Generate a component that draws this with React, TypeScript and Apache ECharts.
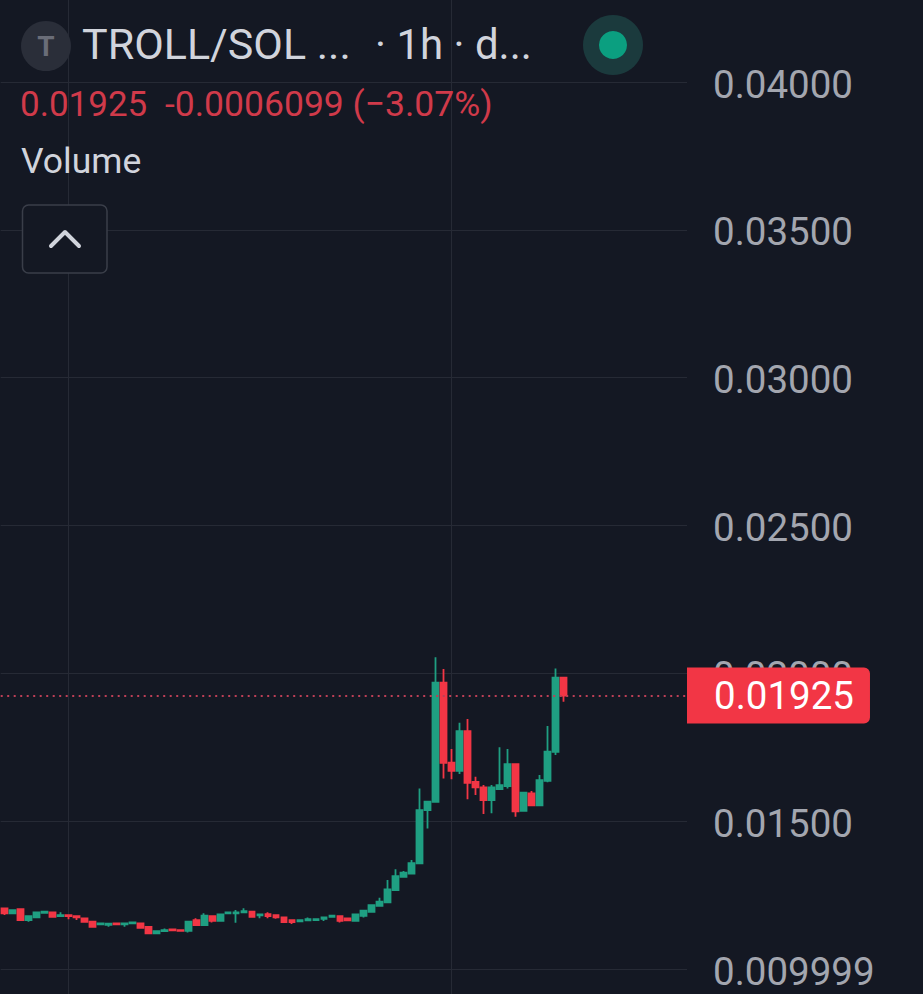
import React, { useEffect, useRef } from "react";
import * as echarts from "echarts";

const BG = "#141823";
const UP = "#1f9f82";
const DOWN = "#f23645";
const FONT = "Roboto";

const yTickLabels: Record<string, string> = {
  "0.01": "0.009999",
  "0.015": "0.01500",
  "0.02": "0.02000",
  "0.025": "0.02500",
  "0.03": "0.03000",
  "0.035": "0.03500",
  "0.04": "0.04000",
};

const opens = [
  0.012053, 0.011884, 0.012029, 0.011657, 0.011748, 0.011904, 0.011918, 0.011792, 0.011826, 0.011792,
  0.011715, 0.0116, 0.011512, 0.011498, 0.011546, 0.011512, 0.011546, 0.011546, 0.01143, 0.011207,
  0.011285, 0.011343, 0.011319, 0.011295, 0.011657, 0.011488, 0.011792, 0.011634, 0.011884, 0.011884,
  0.011918, 0.011938, 0.011816, 0.01186, 0.011826, 0.011748, 0.011657, 0.011613, 0.011647, 0.011657,
  0.011701, 0.011769, 0.011792, 0.011715, 0.011634, 0.011803, 0.011938, 0.012141, 0.012256, 0.012672,
  0.013122, 0.01323, 0.013575, 0.015377, 0.015658, 0.019683, 0.016977, 0.016707, 0.018049, 0.016334,
  0.016145, 0.015716, 0.016088, 0.016189, 0.016933, 0.015354, 0.015942, 0.015536, 0.016368, 0.017349,
  0.01986,
];
const closes = [
  0.011884, 0.011995, 0.011657, 0.011792, 0.011918, 0.011938, 0.011769, 0.011826, 0.011792, 0.011748,
  0.0116, 0.01143, 0.011546, 0.011532, 0.011512, 0.011546, 0.011579, 0.011397, 0.011207, 0.011285,
  0.011319, 0.011309, 0.011295, 0.0116, 0.011488, 0.011803, 0.011634, 0.01185, 0.011918, 0.011918,
  0.011962, 0.011769, 0.01185, 0.011792, 0.011748, 0.01159, 0.01159, 0.011657, 0.011691, 0.011691,
  0.011748, 0.011803, 0.011634, 0.011647, 0.01185, 0.011972, 0.012164, 0.012276, 0.012695, 0.013145,
  0.013257, 0.013585, 0.015377, 0.015658, 0.019683, 0.016977, 0.016707, 0.018049, 0.0163, 0.016145,
  0.015716, 0.016145, 0.016223, 0.016933, 0.015333, 0.015963, 0.015536, 0.016392, 0.017349, 0.01986,
  0.01925,
];
const lows = [
  0.011826, 0.01186, 0.01164, 0.0116, 0.011725, 0.011894, 0.011759, 0.011776, 0.011681, 0.011657,
  0.01159, 0.011397, 0.011505, 0.01143, 0.011488, 0.01143, 0.011522, 0.011387, 0.011184, 0.0112,
  0.011268, 0.011285, 0.011285, 0.011234, 0.011471, 0.011488, 0.011579, 0.011634, 0.01186, 0.011566,
  0.011894, 0.011748, 0.011715, 0.011715, 0.011701, 0.011573, 0.011522, 0.0116, 0.011623, 0.011623,
  0.011623, 0.011759, 0.011579, 0.011623, 0.011623, 0.011748, 0.011928, 0.01213, 0.012232, 0.012672,
  0.013111, 0.013213, 0.013575, 0.014758, 0.015658, 0.016449, 0.016416, 0.016595, 0.015739, 0.015885,
  0.015242, 0.015266, 0.016088, 0.016111, 0.015151, 0.015354, 0.015513, 0.015536, 0.016314, 0.017237,
  0.01904,
];
const highs = [
  0.012063, 0.011995, 0.012029, 0.011792, 0.011928, 0.011962, 0.011928, 0.011918, 0.011826, 0.011792,
  0.011748, 0.0116, 0.011556, 0.011532, 0.011556, 0.011556, 0.01159, 0.011556, 0.011454, 0.011285,
  0.011376, 0.011353, 0.011319, 0.0116, 0.011715, 0.011884, 0.011792, 0.01186, 0.011928, 0.011995,
  0.012053, 0.011938, 0.01186, 0.011918, 0.011843, 0.011759, 0.011657, 0.011657, 0.011748, 0.011691,
  0.011759, 0.011809, 0.011792, 0.011725, 0.01186, 0.011995, 0.012164, 0.012411, 0.01301, 0.013372,
  0.013314, 0.013686, 0.016111, 0.015658, 0.020542, 0.020146, 0.01744, 0.01833, 0.018455, 0.016504,
  0.016223, 0.016223, 0.017498, 0.01744, 0.016933, 0.015986, 0.01602, 0.016561, 0.018218, 0.020169,
  0.01986,
];

const categoryCount = 86;
const categories = Array.from({ length: categoryCount }, (_, i) => String(i));
const verticalGridAt = ["8", "56"];
const lastPrice = 0.01925;

const candleData = opens.map((o, i) => [o, closes[i], lows[i], highs[i]]);

export default function App() {
  const ref = useRef<HTMLDivElement>(null);

  useEffect(() => {
    document.body.style.margin = "0";
    document.body.style.background = BG;
    const chart = echarts.init(ref.current!, null, { renderer: "svg" });
    chart.setOption({
      animation: false,
      backgroundColor: BG,
      grid: { left: 0.7, top: -65.8, width: 686.3, height: 1182.7, containLabel: false, outerBoundsMode: "none" },
      xAxis: {
        type: "category",
        data: categories,
        axisLine: { show: false },
        axisTick: { show: false },
        axisLabel: { show: false },
        splitLine: { show: false },
      },
      yAxis: {
        type: "value",
        position: "right",
        min: 0.005,
        max: 0.045,
        interval: 0.005,
        axisLine: { show: false },
        axisTick: { show: false },
        axisLabel: {
          margin: 26,
          formatter: (v: number) => {
            const t = yTickLabels[String(+v.toFixed(3))];
            return t ? `{a|${t}}` : "";
          },
          rich: {
            a: {
              color: "#a3a6af",
              fontFamily: FONT,
              fontSize: 38.5,
              padding: [4, 0, 0, 0],
            },
          },
        },
        splitLine: { lineStyle: { color: "#262a35", width: 1 } },
      },
      series: [
        {
          type: "line",
          silent: true,
          data: [],
          markLine: {
            silent: true,
            z: 1,
            symbol: "none",
            label: { show: false },
            lineStyle: { color: "#262a35", width: 1, type: "solid" },
            data: verticalGridAt.map((c) => ({ xAxis: c })),
          },
        },
        {
          type: "candlestick",
          z: 2,
          barWidth: 6.2,
          data: candleData,
          itemStyle: {
            color: UP,
            color0: DOWN,
            borderColor: UP,
            borderColor0: DOWN,
            borderWidth: 1.8,
          },
          markLine: {
            silent: true,
            symbol: "none",
            precision: 5,
            lineStyle: { color: "#bd3f56", width: 2, type: [2, 4.5], opacity: 1 },
            label: {
              show: true,
              position: "end",
              distance: 0,
              formatter: "0.01925",
              color: "#ffffff",
              fontFamily: FONT,
              fontSize: 38.5,
              lineHeight: 56,
              backgroundColor: DOWN,
              borderRadius: [0, 6, 6, 0],
              padding: [0, 16, 0, 27],
            },
            data: [{ yAxis: lastPrice }],
          },
        },
      ],
      graphic: [
        { type: "circle", z: 50, shape: { cx: 46, cy: 46, r: 25 }, style: { fill: "#2a2e39" } },
        {
          type: "text", z: 51, x: 46, y: 46,
          style: { text: "T", fill: "#6a6d78", font: `bold 28px ${FONT}`, align: "center", verticalAlign: "middle" },
        },
        {
          type: "text", z: 51, x: 82, y: 44,
          style: { text: "TROLL/SOL ...", fill: "#d1d4dc", font: `43px ${FONT}`, verticalAlign: "middle" },
        },
        {
          type: "text", z: 51, x: 375, y: 44,
          style: { text: "· 1h · d...", fill: "#d1d4dc", font: `42px ${FONT}`, verticalAlign: "middle" },
        },
        { type: "circle", z: 50, shape: { cx: 613, cy: 45, r: 30 }, style: { fill: "#1b3a3d" } },
        { type: "circle", z: 51, shape: { cx: 613, cy: 45, r: 14 }, style: { fill: "#0b9f80" } },
        {
          type: "text", z: 51, x: 20, y: 104,
          style: { text: "0.01925", fill: "#d03a4a", font: `35px ${FONT}`, verticalAlign: "middle" },
        },
        {
          type: "text", z: 51, x: 165, y: 104,
          style: { text: "-0.0006099 (−3.07%)", fill: "#d03a4a", font: `35.5px ${FONT}`, verticalAlign: "middle" },
        },
        {
          type: "text", z: 51, x: 21, y: 161,
          style: { text: "Volume", fill: "#d1d4dc", font: `35.5px ${FONT}`, verticalAlign: "middle" },
        },
        {
          type: "rect", z: 50,
          shape: { x: 22.5, y: 205, width: 84.5, height: 68, r: 6 },
          style: { fill: BG, stroke: "#3a3e49", lineWidth: 1.5 },
        },
        {
          type: "polyline", z: 51,
          shape: { points: [[51, 246], [65, 232], [79, 246]] },
          style: { fill: "none", stroke: "#d1d4dc", lineWidth: 4, lineCap: "round", lineJoin: "round" },
        },
      ],
    });
    return () => chart.dispose();
  }, []);

  return <div ref={ref} style={{ position: "absolute", left: 0, top: 0, width: 923, height: 994 }} />;
}
